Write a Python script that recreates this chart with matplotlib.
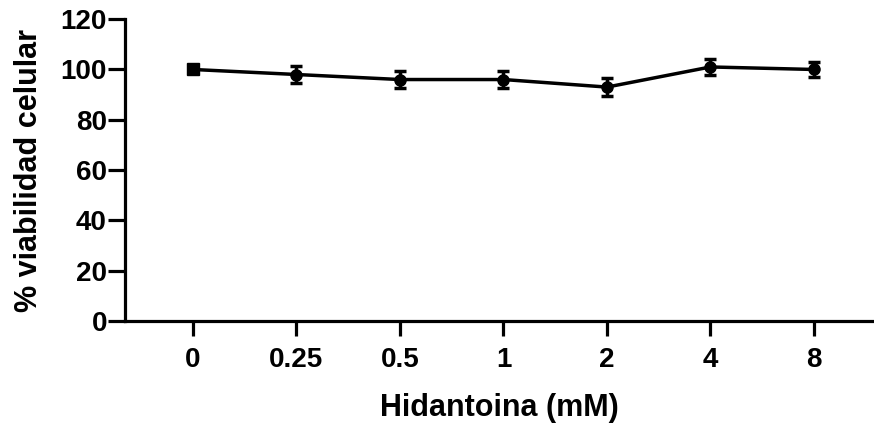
import matplotlib
matplotlib.use("Agg")
import matplotlib.pyplot as plt

# datos
categorias = ["0", "0.25", "0.5", "1", "2", "4", "8"]
viabilidad = [100, 98, 96, 96, 93, 101, 100]
error = [0.5, 3.5, 3.3, 3.2, 3.5, 3.0, 3.0]

plt.rcParams["font.family"] = ["Liberation Sans", "DejaVu Sans"]
plt.rcParams["font.weight"] = "bold"

fig = plt.figure(figsize=(8.74, 4.26), dpi=100)
ax = fig.add_axes([0.143, 0.2465, 0.857, 0.7085])

x = list(range(len(categorias)))
ax.errorbar(x, viabilidad, yerr=error, color="black", lw=2.5,
            elinewidth=2.5, capsize=4.5, capthick=2.5, marker="o", ms=8)
# primer punto con marcador cuadrado
ax.plot(x[0], viabilidad[0], marker="s", ms=8.5, color="black")

ax.set_xlim(-0.657, 6.58)
ax.set_ylim(0, 120)
ax.set_yticks([0, 20, 40, 60, 80, 100, 120])
ax.set_xticks(x)
ax.set_xticklabels(categorias)

for s in ["top", "right"]:
    ax.spines[s].set_visible(False)
for s in ["left", "bottom"]:
    ax.spines[s].set_linewidth(2.3)

ax.tick_params(axis="y", length=12, width=2.3, labelsize=20, pad=1)
ax.tick_params(axis="x", length=11, width=2.3, labelsize=20, pad=8)

ax.set_xlabel("Hidantoina (mM)", fontsize=22, fontweight="bold", labelpad=14)
ax.set_ylabel("% viabilidad celular", fontsize=22, fontweight="bold", labelpad=12)

fig.savefig("out.png", dpi=100)
